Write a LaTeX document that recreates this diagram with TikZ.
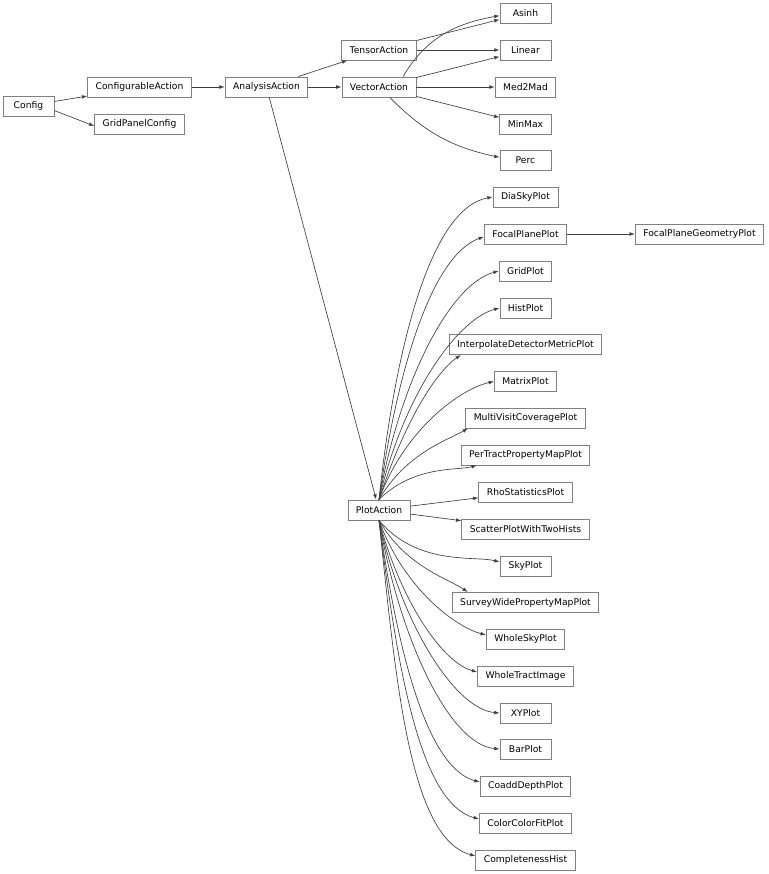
\documentclass[tikz,border=0pt]{standalone}
\usepackage{fontspec}
\setmainfont{DejaVu Sans}
\usetikzlibrary{arrows.meta}

\definecolor{boxgray}{gray}{0.5}
\definecolor{edgegray}{gray}{0.25}

\begin{document}
\begin{tikzpicture}[x = 0.75pt, y = 0.75pt, > = {Latex[length = 4pt, width = 2.8pt]},
	cls/.style = {draw = boxgray, fill = white, line width = 0.6pt, minimum width = 38.25pt,
		minimum height = 15pt, inner xsep = 6pt, inner ysep = 0pt, font = \fontsize{6.9}{8}\selectfont},
	edge/.style = {->, draw = edgegray, line width = 0.5pt},
	fan/.style = {edge, out looseness = 1.2, in looseness = 0.5}]

	% Canvas (one unit is one pixel of the picture)

	\useasboundingbox (0, 0) rectangle (768, -874);

	% Base classes

	\node [cls] (Config) at (28.5, -106) {Config};
	\node [cls] (ConfigurableAction) at (139.5, -87) {ConfigurableAction};
	\node [cls] (GridPanelConfig) at (139.5, -124) {GridPanelConfig};
	\node [cls] (AnalysisAction) at (266.5, -87) {AnalysisAction};
	\node [cls] (TensorAction) at (379, -50) {TensorAction};
	\node [cls] (VectorAction) at (379, -87) {VectorAction};
	\node [cls] (PlotAction) at (379, -510) {PlotAction};

	% Leaf classes

	\foreach \name/\y in {Asinh/13, Linear/50, Med2Mad/87, MinMax/124, Perc/160,
		DiaSkyPlot/197, FocalPlanePlot/234, GridPlot/271, HistPlot/308,
		InterpolateDetectorMetricPlot/344.5, MatrixPlot/381.5, MultiVisitCoveragePlot/418,
		PerTractPropertyMapPlot/455, RhoStatisticsPlot/492, ScatterPlotWithTwoHists/529,
		SkyPlot/566, SurveyWidePropertyMapPlot/602.5, WholeSkyPlot/639, WholeTractImage/676,
		XYPlot/713, BarPlot/749, CoaddDepthPlot/786, ColorColorFitPlot/823, CompletenessHist/860}
		\node [cls] (\name) at (525.5, -\y) {\name};

	\node [cls] (FocalPlaneGeometryPlot) at (699.5, -234) {FocalPlaneGeometryPlot};

	% Upper part of the tree

	\draw [edge] (Config.10) -- ([yshift = 1pt] ConfigurableAction.south west);
	\draw [edge] (Config.-10) -- ([yshift = -1.5pt] GridPanelConfig.west);
	\draw [edge] (ConfigurableAction) -- (AnalysisAction);
	\draw [edge] (AnalysisAction) -- (TensorAction);
	\draw [edge] (AnalysisAction) -- (VectorAction);
	\draw [edge] (AnalysisAction) -- (PlotAction);

	\draw [edge] (TensorAction) -- (Asinh);
	\draw [edge] (TensorAction) -- (Linear);
	\draw [edge] ([xshift = -10pt] VectorAction.north east) to [out = 60, in = 190] ([yshift = -2pt] Asinh.west);
	\draw [edge] (VectorAction) -- (Linear);
	\draw [edge] (VectorAction) -- (Med2Mad);
	\draw [edge] (VectorAction) -- (MinMax);
	\draw [edge] ([xshift = 8pt] VectorAction.south) to [out = -45, in = 168] ([yshift = 2pt] Perc.west);

	\draw [edge] (FocalPlanePlot) -- (FocalPlaneGeometryPlot);

	% Fan above PlotAction

	\foreach \name/\angout/\angin in {DiaSkyPlot/84/190, GridPlot/80/195, HistPlot/77/195, MatrixPlot/70/192}
		\draw [fan] (PlotAction.north) to [out = \angout, in = \angin] (\name.west);

	\draw [fan] (PlotAction.north) to [out = 82, in = 200] ([yshift = -2pt] FocalPlanePlot.west);
	\draw [fan] (PlotAction.north) to [out = 72, in = 215] ([xshift = 9pt] InterpolateDetectorMetricPlot.south west);
	\draw [fan] (PlotAction.north) to [out = 60, in = 210] ([xshift = 2pt] MultiVisitCoveragePlot.south west);
	\draw [fan] (PlotAction.north) to [out = 45, in = 195] ([xshift = 12pt] PerTractPropertyMapPlot.south west);

	% Straight ones

	\draw [edge] (PlotAction) -- (RhoStatisticsPlot);
	\draw [edge] (PlotAction) -- (ScatterPlotWithTwoHists);

	% Fan below PlotAction

	\foreach \name/\angout in {SkyPlot/-50, WholeSkyPlot/-70, WholeTractImage/-75,
		CoaddDepthPlot/-82, ColorColorFitPlot/-83, CompletenessHist/-84}
		\draw [fan] (PlotAction.south) to [out = \angout, in = 165] ([yshift = 3pt] \name.west);

	\foreach \name/\angout in {XYPlot/-78, BarPlot/-80}
		\draw [fan] (PlotAction.south) to [out = \angout, in = 175] (\name.west);

	\draw [fan] (PlotAction.south) to [out = -60, in = 145] ([xshift = 12pt] SurveyWidePropertyMapPlot.north west);

\end{tikzpicture}
\end{document}
